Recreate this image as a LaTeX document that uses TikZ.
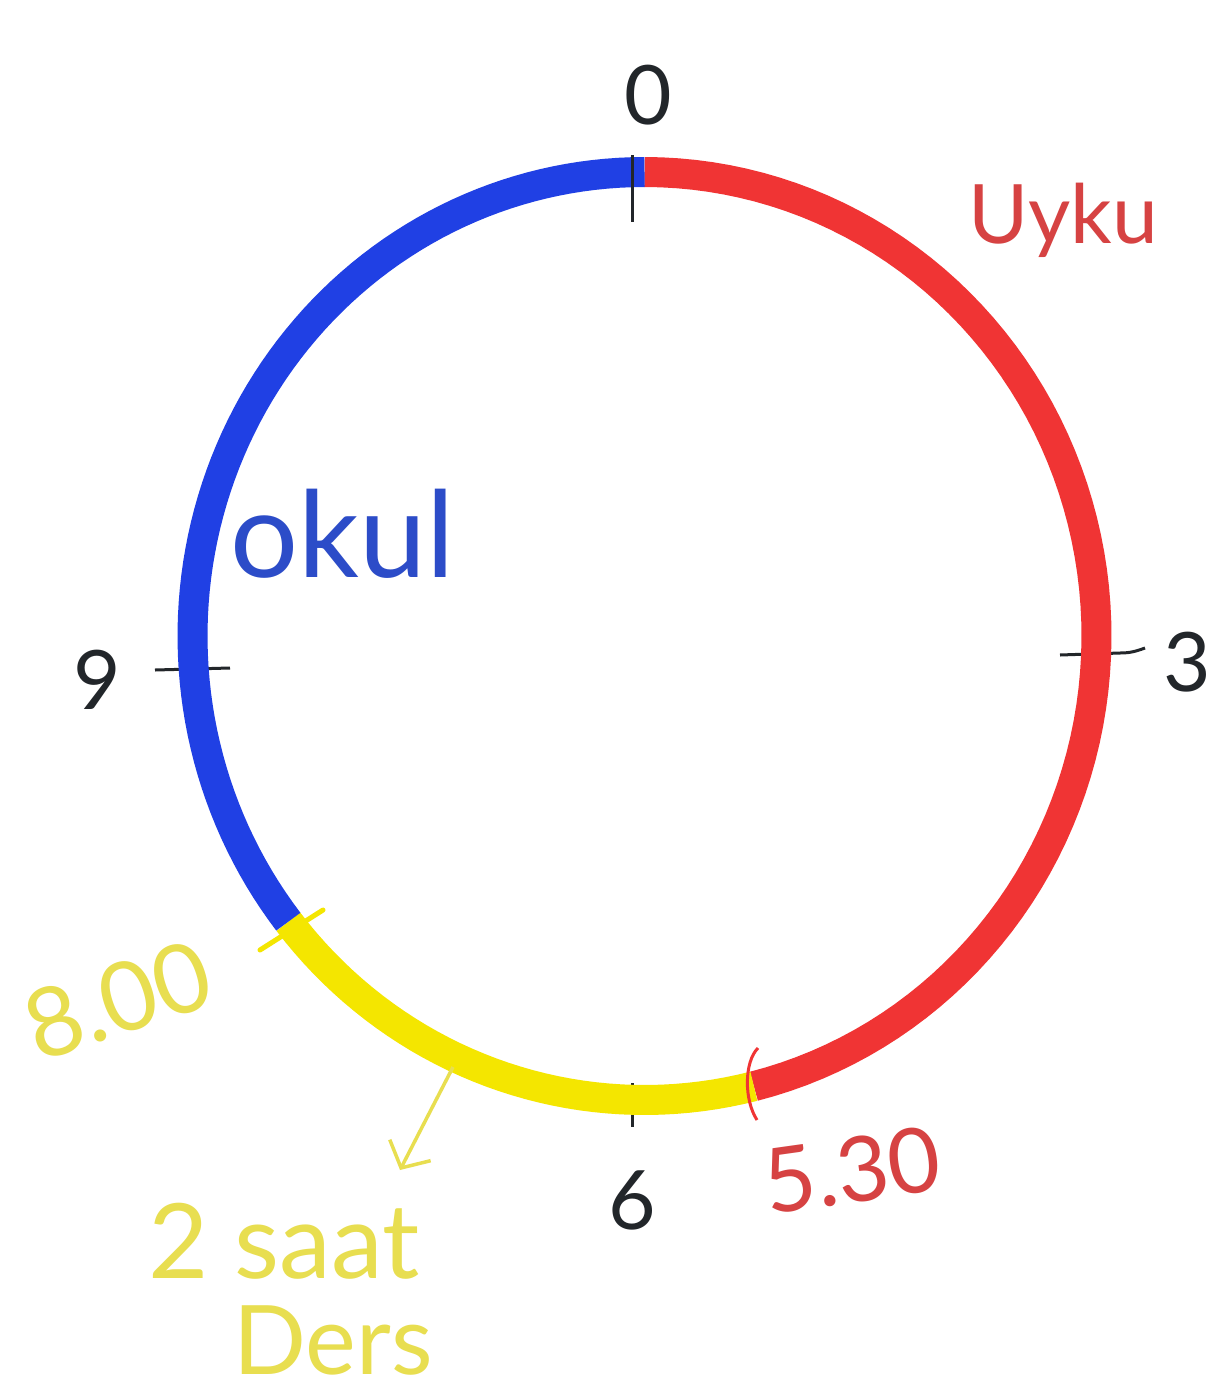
\documentclass[tikz,border=0pt]{standalone}
\usepackage{fontspec}
\setmainfont{Lato}
\usetikzlibrary{arrows.meta}
\definecolor{arcblue}{RGB}{32,64,228}
\definecolor{arcred}{RGB}{240,52,52}
\definecolor{arcyellow}{RGB}{244,230,0}
\definecolor{txtyellow}{RGB}{232,222,80}
\definecolor{txtred}{RGB}{214,66,66}
\definecolor{txtblue}{RGB}{44,76,200}
\definecolor{ink}{RGB}{34,38,42}
\tikzset{
  arcstroke/.style={line width=30pt, line cap=butt},
  tickline/.style={ink, line width=3pt},
  numlabel/.style={ink, font=\fontsize{82}{90}\selectfont, inner sep=0pt},
  hand/.style={inner sep=0pt, anchor=base},
}
\begin{document}
\begin{tikzpicture}[x=1pt,y=-1pt]
\useasboundingbox (0,0) rectangle (1229,1397);
\fill[white] (0,0) rectangle (1229,1397);
% tick marks (under the arcs)
\coordinate (t0a) at (632,155); \coordinate (t0b) at (632,222);
\coordinate (t3a) at (1060,655); \coordinate (t3b) at (1145,648);
\coordinate (t9a) at (155,670); \coordinate (t9b) at (230,668);
\coordinate (t6a) at (632,1083); \coordinate (t6b) at (632,1127);
\draw[tickline] (t3a) -- (1120,653) to[out=0,in=200] (t3b);
\draw[tickline] (t9a) -- (t9b);
\draw[tickline] (t6a) -- (t6b);
% arcs
\draw[arcstroke, arcred] plot[domain=90:-76, samples=80] ({644.5+452*cos(\x)},{636-464*sin(\x)});
\draw[arcstroke, arcyellow] plot[domain=-76:-142, samples=40] ({644.5+452*cos(\x)},{636-464*sin(\x)});
\draw[arcstroke, arcblue] plot[domain=218:90, samples=80] ({644.5+452*cos(\x)},{636-464*sin(\x)});
% top tick over the join
\draw[tickline] (t0a) -- (t0b);
% 5:30 and 8:00 ticks
\coordinate (s5a) at (758,1048); \coordinate (s5b) at (757,1120);
\draw[arcred, line width=3pt] (s5a) .. controls (744,1062) and (744,1100) .. (s5b);
\coordinate (s8a) at (260,950); \coordinate (s8b) at (323,910);
\draw[arcyellow, line width=5pt, line cap=round] (s8a) -- (s8b);
% numbers
\node[numlabel] (n0) at (648,95) {0};
\node[numlabel] (n3) at (1187,662) {3};
\node[numlabel] (n6) at (632,1200) {6};
\node[numlabel] (n9) at (97,680) {9};
% labels
\node[hand, txtred, font=\fontsize{82}{90}\selectfont] (uyku) at (1063,243) {Uyku};
\node[hand, txtblue, font=\fontsize{120}{130}\selectfont] (okul) at (343,577) {okul};
\node[txtyellow, inner sep=0pt, rotate=18, font=\fontsize{96}{110}\selectfont] (t800) at (118,1000) {8.00};
\node[txtred, inner sep=0pt, rotate=8, font=\fontsize{90}{100}\selectfont] (t530) at (852,1170) {5.30};
\node[hand, txtyellow, font=\fontsize{104}{120}\selectfont] (saat) at (284,1278) {2 saat};
\node[hand, txtyellow, font=\fontsize{96}{110}\selectfont] (ders) at (333,1374) {Ders};
% arrow
\coordinate (arA) at (453,1067);
\coordinate (arB) at (400,1170);
\draw[txtyellow, line width=3.5pt, -{Straight Barb[length=20pt,width=46pt]}] (arA) -- (arB);
\end{tikzpicture}
\end{document}
